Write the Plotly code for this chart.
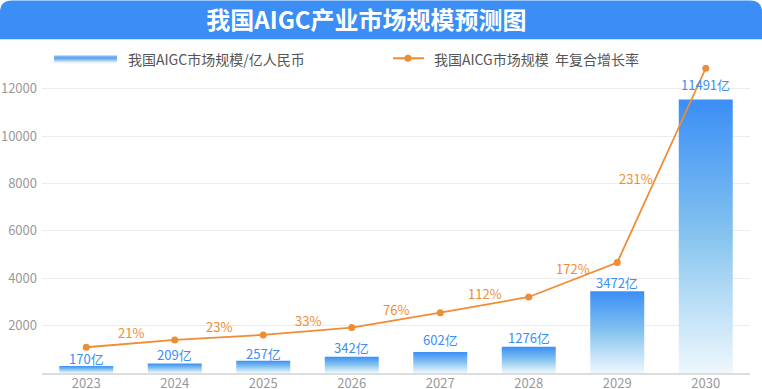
import plotly.graph_objects as go

# ---------------- data ----------------
years = ["2023", "2024", "2025", "2026", "2027", "2028", "2029", "2030"]
bar_values = [300, 400, 520, 690, 890, 1110, 3450, 11540]          # bar heights
bar_labels = ["170亿", "209亿", "257亿", "342亿", "602亿", "1276亿", "3472亿", "11491亿"]
line_values = [1086, 1398, 1608, 1916, 2547, 3208, 4665, 12863]    # orange line points
growth_labels = ["21%", "23%", "33%", "76%", "112%", "172%", "231%"]
y_ticks = [2000, 4000, 6000, 8000, 10000, 12000]

# ---------------- geometry / style ----------------
W, H = 762, 389
ML, MR, MT, MB = 42, 12, 64.75, 15.5
PW, PH = W - ML - MR, H - MT - MB
FONT = "Noto Sans CJK SC"
BLUE = "#3a8ef6"
ORANGE = "#f08c34"
BAR_W = 0.61
LABEL_GAP = [7, 9.5, 7.5, 9.3, 12, 9.3, 8.4, 15]   # px between bar top and label centre


def px(xp):
    return (xp - ML) / PW


def py(yp):
    return (H - MB - yp) / PH


fig = go.Figure()

# gradient bars (one filled trace per bar, gradient relative to its own height)
for i, v in enumerate(bar_values):
    fig.add_trace(go.Scatter(
        x=[i - BAR_W / 2, i + BAR_W / 2, i + BAR_W / 2, i - BAR_W / 2, i - BAR_W / 2],
        y=[0, 0, v, v, 0],
        mode="lines", line=dict(width=0), fill="toself",
        fillgradient=dict(type="vertical", start=0, stop=v,
                          colorscale=[[0, "rgba(235,246,253,0.9)"], [0.5, "#86c4ef"], [1, BLUE]]),
        hoverinfo="skip", showlegend=False,
    ))

# orange line
fig.add_trace(go.Scatter(
    x=list(range(len(years))), y=line_values, mode="lines+markers",
    line=dict(color=ORANGE, width=1.8), marker=dict(color=ORANGE, size=7),
    hoverinfo="skip", showlegend=False,
))

annotations = []
# bar value labels
for i, (v, t) in enumerate(zip(bar_values, bar_labels)):
    annotations.append(dict(x=i, y=v, text=t, showarrow=False, xref="x", yref="y",
                            yanchor="middle", yshift=LABEL_GAP[i],
                            font=dict(family=FONT, size=13, color=BLUE)))
# growth labels
shifts = [(0, 11)] * 6 + [(-26, -13)]
for i, t in enumerate(growth_labels):
    xs, ys = shifts[i]
    annotations.append(dict(x=i + 0.5, y=(line_values[i] + line_values[i + 1]) / 2, text=t,
                            showarrow=False, xref="x", yref="y", yanchor="middle",
                            xshift=xs, yshift=ys,
                            font=dict(family=FONT, size=13, color=ORANGE)))
# legend texts
annotations.append(dict(x=px(126), y=py(59), xref="paper", yref="paper", xanchor="left",
                        yanchor="middle", showarrow=False, text="我国AIGC市场规模/亿人民币",
                        font=dict(family=FONT, size=14, color="#555555")))
annotations.append(dict(x=px(432), y=py(59), xref="paper", yref="paper", xanchor="left",
                        yanchor="middle", showarrow=False, text="我国AICG市场规模  年复合增长率",
                        font=dict(family=FONT, size=14, color="#555555")))

shapes = []
# title bar with rounded top corners
r = 12
pts = f"M {px(0)},{py(39)} L {px(0)},{py(r)} Q {px(0)},{py(0)} {px(r)},{py(0)} " \
      f"L {px(W - r)},{py(0)} Q {px(W)},{py(0)} {px(W)},{py(r)} L {px(W)},{py(39)} Z"
shapes.append(dict(type="path", path=pts, xref="paper", yref="paper",
                   fillcolor=BLUE, line=dict(width=0), layer="below"))
# legend gradient swatch
sw_cols = ["#a9cff7", "#5ea2f4", "#3a8ef6", "#4a98f2", "#6aaeef", "#93c6f0", "#bfdcf5", "#e6f2fb"]
for k, c in enumerate(sw_cols):
    shapes.append(dict(type="rect", xref="paper", yref="paper",
                       x0=px(54), x1=px(117), y0=py(55 + k + 1), y1=py(55 + k),
                       fillcolor=c, line=dict(width=0)))
# legend orange line
shapes.append(dict(type="line", xref="paper", yref="paper", x0=px(393), x1=px(424),
                   y0=py(58), y1=py(58), line=dict(color=ORANGE, width=2)))
shapes.append(dict(type="circle", xref="paper", yref="paper", x0=px(404.5), x1=px(411.5),
                   y0=py(61.5), y1=py(54.5), fillcolor=ORANGE, line=dict(width=0)))

fig.update_layout(
    width=W, height=H,
    margin=dict(l=ML, r=MR, t=MT, b=MB),
    paper_bgcolor="white", plot_bgcolor="white",
    title=dict(text="<b>我国AIGC产业市场规模预测图</b>", x=366.5 / W, xref="container", xanchor="center",
               y=1 - 21 / H, yref="container", yanchor="middle",
               font=dict(family=FONT, size=24, color="white")),
    xaxis=dict(range=[-0.5, len(years) - 0.5], tickvals=list(range(len(years))), ticktext=years,
               showgrid=False, zeroline=False, showline=True, linecolor="#dddddd", linewidth=2,
               ticks="", ticklabelstandoff=-3,
               tickfont=dict(family=FONT, size=13, color="#999999"), automargin=False),
    yaxis=dict(range=[0, 13000], tickvals=y_ticks, ticktext=[str(t) for t in y_ticks],
               showgrid=True, gridcolor="#ececec", gridwidth=1, zeroline=False, showline=False,
               ticks="", ticklabelstandoff=4,
               tickfont=dict(family=FONT, size=13, color="#999999"), automargin=False),
    annotations=annotations, shapes=shapes, showlegend=False,
)

fig.write_html("out.html", config={"displayModeBar": False},
               post_script="document.body.style.margin='0px';document.body.style.overflow='hidden';")
